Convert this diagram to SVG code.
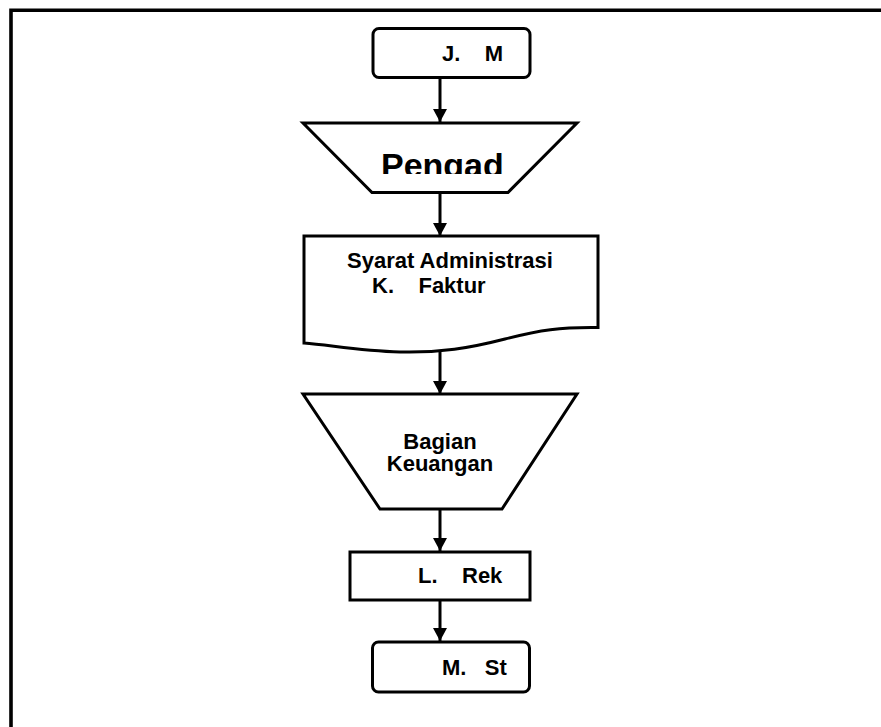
<svg xmlns="http://www.w3.org/2000/svg" width="881" height="727" viewBox="0 0 881 727">
  <style>
    .shape { fill: #ffffff; stroke: #000000; stroke-width: 3; stroke-linejoin: miter; }
    .label { font-family: "Liberation Sans", Arial, sans-serif; font-weight: bold; font-size: 22px; fill: #000000; }
    .big { font-size: 34px; }
    .wire { stroke: #000000; stroke-width: 3; fill: none; }
    .frame { stroke: #000000; stroke-width: 3.6; fill: none; }
  </style>
  <defs>
    <marker id="arrow" markerUnits="userSpaceOnUse" markerWidth="14" markerHeight="14" viewBox="0 0 14 14" refX="13" refY="7" orient="auto">
      <path d="M0,0 L13,7 L0,14 Z" fill="#000000"/>
    </marker>
    <clipPath id="pengadClip">
      <rect x="300" y="124" width="280" height="50"/>
    </clipPath>
  </defs>

  <rect width="881" height="727" fill="#ffffff"/>

  <!-- page frame: top and left rules -->
  <path class="frame" d="M11,727 L11,10.3 L881,10.3"/>

  <!-- connectors -->
  <g id="connectors">
    <line class="wire" x1="440" y1="78" x2="440" y2="122" marker-end="url(#arrow)"/>
    <line class="wire" x1="440" y1="193" x2="440" y2="236" marker-end="url(#arrow)"/>
    <line class="wire" x1="440" y1="351" x2="440" y2="394" marker-end="url(#arrow)"/>
    <line class="wire" x1="440" y1="509" x2="440" y2="551" marker-end="url(#arrow)"/>
    <line class="wire" x1="440" y1="600" x2="440" y2="641" marker-end="url(#arrow)"/>
  </g>

  <!-- start terminal -->
  <g id="node-jm">
    <rect class="shape" x="373" y="28.5" width="157" height="49" rx="6" ry="6"/>
    <text class="label" x="442" y="61" xml:space="preserve">J.    M</text>
  </g>

  <!-- manual operation: Pengad -->
  <g id="node-pengad">
    <path class="shape" d="M303,123 L577,123 L508,192.5 L372,192.5 Z"/>
    <text class="label big" x="381" y="177" clip-path="url(#pengadClip)">Pengad</text>
  </g>

  <!-- document -->
  <g id="node-syarat">
    <path class="shape" d="M304,236 L598,236 L598,327.5 C560,327 540,330 505,339 C470,348 440,353 400,352 C360,351 330,345 304,343 Z"/>
    <text class="label" x="347" y="268">Syarat Administrasi</text>
    <text class="label" x="372" y="293" xml:space="preserve">K.    Faktur</text>
  </g>

  <!-- manual operation: Bagian Keuangan -->
  <g id="node-keuangan">
    <path class="shape" d="M303,394 L577,394 L502,509 L380,509 Z"/>
    <text class="label" x="440" y="449" text-anchor="middle">Bagian</text>
    <text class="label" x="440" y="471" text-anchor="middle">Keuangan</text>
  </g>

  <!-- process -->
  <g id="node-rek">
    <rect class="shape" x="350" y="552" width="180" height="48"/>
    <text class="label" x="418" y="583" xml:space="preserve">L.    Rek</text>
  </g>

  <!-- end terminal -->
  <g id="node-st">
    <rect class="shape" x="372.5" y="642" width="157" height="50" rx="6" ry="6"/>
    <text class="label" x="442" y="675" xml:space="preserve">M.   St</text>
  </g>
</svg>
